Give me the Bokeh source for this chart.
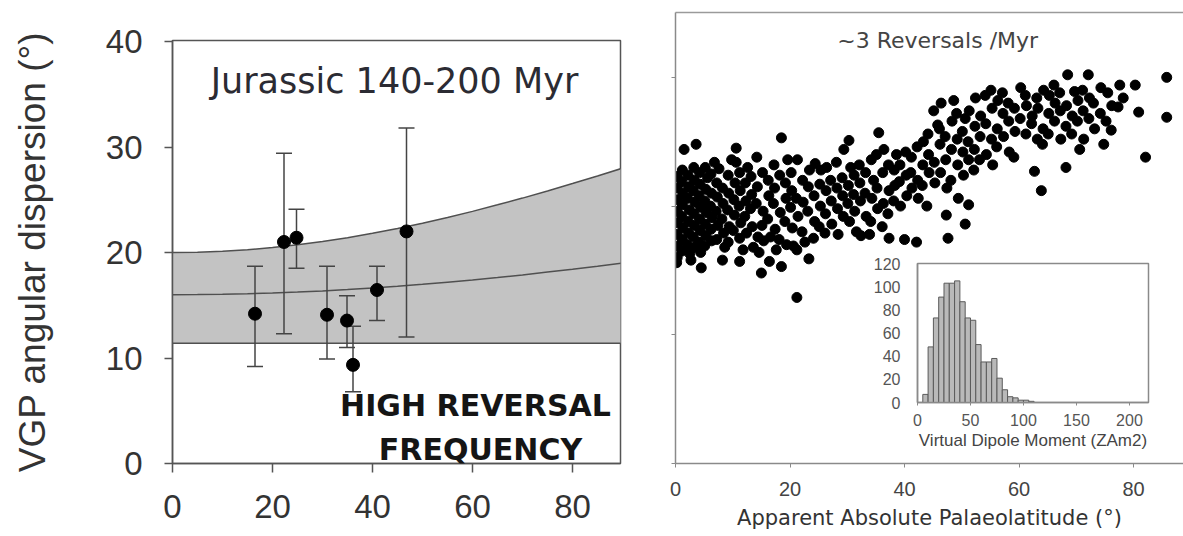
from bokeh.plotting import figure
from bokeh.models import (Range1d, FixedTicker, LinearAxis, Label, ColumnDataSource, GridBox, Row,
                          CustomJSTickFormatter)
from bokeh.embed import file_html
from bokeh.resources import INLINE

# ---------------- data: left panel (Jurassic sites) ----------------
site_lat = [16.5, 22.3, 24.8, 30.9, 34.9, 36.1, 40.9, 46.8]
site_vgp = [14.2, 21.0, 21.4, 14.1, 13.55, 9.35, 16.45, 22.0]
site_upper = [18.7, 29.4, 24.1, 18.7, 15.9, 13.0, 18.7, 31.8]
site_lower = [9.2, 12.3, 18.5, 9.9, 11.0, 6.8, 13.55, 12.0]

model_lat = [0, 5, 10, 15, 20, 25, 30, 35, 40, 45, 50, 55, 60, 65, 70, 75, 80, 85, 90]
model_upper = [20.0, 20.03, 20.12, 20.27, 20.47, 20.73, 21.04, 21.41, 21.82, 22.28, 22.78,
               23.33, 23.9, 24.52, 25.16, 25.84, 26.54, 27.25, 28.0]
model_mid = [16.0, 16.01, 16.04, 16.09, 16.16, 16.25, 16.36, 16.49, 16.64, 16.81, 16.99,
             17.19, 17.4, 17.63, 17.88, 18.15, 18.42, 18.70, 19.0]
model_lower = [11.4, 11.4, 11.4, 11.4, 11.4, 11.4, 11.4, 11.4, 11.4, 11.4, 11.4,
               11.4, 11.4, 11.4, 11.4, 11.4, 11.4, 11.4, 11.4]

left_xticks = [0, 20, 40, 60, 80]
left_yticks = [0, 10, 20, 30, 40]

# ---------------- data: right panel (simulation, ~3 reversals/Myr) ----------------
scatter_pts = [
    (0.3,22.3),(0.3,21.4),(0.4,20.5),(0.3,19.6),(0.4,18.7),(0.3,17.8),(0.4,16.9),(0.3,16.0),(0.2,15.6),
    (1.2,22.8),(1.1,21.9),(1.3,21.0),(1.2,20.1),(1.1,19.2),(1.3,18.3),(1.2,17.4),(1.1,16.5),(1.5,24.4),
    (2.2,22.4),(2.3,21.5),(2.1,20.6),(2.4,19.7),(2.2,18.8),(2.3,17.9),(2.1,17.0),(2.7,15.8),(2.5,16.3),
    (3.2,23.0),(3.3,22.0),(3.1,21.2),(3.4,20.3),(3.2,19.4),(3.3,18.5),(3.1,17.6),(3.4,16.8),(3.6,24.8),
    (4.2,22.6),(4.3,21.7),(4.1,20.8),(4.4,19.9),(4.2,19.0),(4.3,18.1),(4.1,17.2),(4.5,15.2),(4.4,16.4),
    (5.2,23.0),(5.3,21.3),(5.1,20.4),(5.4,19.5),(5.2,18.6),(5.3,17.7),(5.1,16.9),(5.6,22.2),
    (6.2,22.5),(6.3,21.0),(6.1,20.0),(6.4,19.1),(6.2,18.2),(6.3,17.3),(6.8,23.4),
    (7.2,21.8),(7.3,20.7),(7.1,19.6),(7.4,18.5),(7.2,17.4),(7.6,22.9),(8.2,15.8),(8.3,20.2),(8.1,19.0),
    (8.4,17.9),(8.2,21.4),(8.6,16.8),(9.2,22.4),(9.3,21.0),(9.1,19.7),(9.4,18.4),(9.2,17.2),(9.8,23.6),
    (10.2,20.5),(10.3,19.3),(10.1,18.1),(10.4,21.8),(10.6,24.5),(10.6,23.4),
    (11.2,22.6),(11.3,21.2),(11.1,20.0),(11.4,18.7),(11.2,17.5),(11.2,15.7),(11.8,16.6),
    (12.2,21.8),(12.3,20.4),(12.1,19.2),(12.4,17.9),(12.6,23.0),(13.2,22.3),(13.3,20.9),(13.1,19.8),
    (13.4,18.4),(13.6,16.8),(14.2,23.8),(14.3,21.5),(14.1,20.2),(14.4,17.6),(14.6,16.4),(15.0,14.8),
    (15.2,22.6),(15.3,19.6),(15.1,18.5),(15.4,17.3),(16.4,15.7),(16.2,22.0),(16.3,20.8),(16.1,19.0),
    (16.6,17.6),(17.2,23.2),(17.3,21.4),(17.1,20.2),(17.4,18.2),(17.6,16.6),(18.5,25.3),(18.2,22.4),
    (18.3,19.5),(18.1,17.4),(18.5,15.3),(19.2,21.8),(19.3,20.6),(19.1,18.8),(19.4,17.0),(19.6,23.6),
    (20.2,22.6),(20.3,21.2),(20.1,19.9),(20.4,18.3),(20.6,16.9),(21.2,12.9),(21.2,16.6),(21.3,23.6),
    (21.1,20.6),(21.4,19.2),(22.2,22.0),(22.3,20.3),(22.1,18.0),(22.6,17.2),(23.3,15.9),(23.2,21.5),
    (23.1,19.6),(23.4,22.8),(24.2,20.8),(24.3,18.8),(24.1,17.5),(24.4,23.3),(25.2,21.7),(25.3,20.0),
    (25.1,18.4),(25.4,22.8),(26.2,19.4),(26.3,21.2),(26.1,17.9),(26.4,23.0),(27.2,20.4),(27.3,18.6),
    (27.1,22.0),(28.2,21.4),(28.3,19.8),(28.1,23.4),(28.4,17.8),(29.4,24.4),(29.2,20.8),(29.3,19.2),
    (29.1,22.2),(30.3,25.1),(30.2,21.6),(30.1,20.2),(30.4,18.8),(30.6,23.0),
    (31.2,22.4),(31.3,19.6),(31.1,20.9),(31.6,18.0),(32.4,17.7),(32.2,21.8),(32.3,20.4),(32.1,23.2),
    (33.2,22.6),(33.9,17.8),(33.3,19.2),(33.1,21.0),(34.2,23.6),(34.3,20.6),(34.1,18.8),(34.6,22.0),
    (35.5,25.7),(35.2,21.4),(35.3,19.8),(35.1,24.0),(36.4,24.4),(36.2,22.6),(36.3,20.2),(36.1,18.4),
    (37.3,17.5),(37.2,23.2),(37.3,21.2),(37.1,19.4),(38.2,22.8),(38.3,21.6),(38.1,20.4),(38.6,24.0),
    (39.2,23.2),(39.3,20.0),(39.1,21.9),(40.0,17.4),(40.2,24.2),(40.3,22.4),(40.4,20.8),
    (41.2,23.8),(41.3,21.4),(41.1,22.6),(42.1,17.2),(42.2,24.6),(42.3,22.0),(42.4,20.6),(43.2,23.2),
    (43.3,25.0),(43.1,21.6),(43.9,20.0),(44.2,24.0),(44.3,22.6),(44.1,25.6),(45.2,23.4),(45.3,21.8),
    (45.8,26.3),(45.1,27.4),(46.2,24.8),(46.3,22.6),(46.1,26.0),(46.4,28.0),(47.3,19.3),(47.6,17.5),
    (47.2,23.6),(47.1,25.4),(47.4,21.4),(48.2,24.4),(48.3,26.6),(48.1,22.0),(48.6,28.2),(49.2,25.2),
    (49.3,23.2),(49.1,27.2),(49.4,20.6),
    (50.6,26.8),(50.6,18.6),(50.2,24.2),(50.3,22.4),(50.1,25.8),(51.2,20.1),(51.2,23.6),(51.3,27.4),
    (51.1,25.0),(52.2,24.4),(52.3,26.2),(52.1,22.8),(52.4,28.4),(53.2,25.4),(53.3,27.0),(53.1,23.6),
    (54.2,26.4),(54.3,24.0),(54.1,28.6),(55.2,25.2),(55.3,27.6),(55.1,29.0),(55.4,23.2),(56.2,26.0),
    (56.3,28.2),(56.1,24.6),(57.2,27.2),(57.3,25.4),(57.1,28.8),(58.2,26.6),(58.3,24.2),(58.1,28.0),
    (59.2,27.6),(59.3,25.8),(59.1,23.8),(60.3,29.2),(60.2,26.8),
    (61.2,25.6),(61.3,27.8),(61.1,28.6),(62.7,22.7),(62.2,26.4),(62.3,27.0),(63.9,21.2),(63.2,25.2),
    (63.3,27.6),(63.1,28.4),(64.2,26.0),(64.3,29.0),(64.1,24.8),(65.2,27.2),(65.3,28.6),(65.1,25.6),
    (66.2,26.6),(66.3,28.0),(66.1,29.4),(67.2,27.4),(67.3,25.2),(67.1,28.8),(68.2,23.0),(68.5,30.2),
    (68.2,26.2),(68.3,27.8),(69.7,28.9),(69.2,25.6),(69.3,27.0),(70.6,24.4),(70.2,26.6),(70.3,28.2),
    (71.2,27.4),(71.3,25.2),(71.1,29.0),(72.1,30.2),(72.2,26.8),(72.3,28.4),(73.0,28.0),(73.2,26.0),
    (74.2,27.2),(74.8,24.8),(74.3,29.2),(75.5,28.8),(75.2,26.6),(76.1,25.9),(76.2,27.8),(77.3,27.7),
    (77.6,29.4),(78.2,28.4),(80.3,29.4),(80.9,27.3),(82.1,23.8),(85.8,30.0),(85.8,26.9),
]
scatter_lat = [p[0] for p in scatter_pts]
scatter_vgp = [p[1] for p in scatter_pts]
right_xticks = [0, 20, 40, 60, 80]
right_yticks = [0, 10, 20, 30]

# ---------------- data: inset histogram ----------------
vdm_bin_lo = [5, 10, 15, 20, 25, 30, 35, 40, 45, 50, 55, 60, 65, 70, 75, 80, 85, 90, 95, 100, 105]
vdm_counts = [7, 48, 73, 91, 103, 103, 105, 87, 73, 71, 50, 35, 35, 38, 21, 11, 5, 4, 2, 2, 1]
vdm_bin_width = 5
inset_xticks = [0, 50, 100, 150, 200]
inset_yticks = [0, 20, 40, 60, 80, 100, 120]

SANS = "Liberation Sans"
WIDE = "DejaVu Sans"

# ================= left figure =================
left = figure(width=640, height=536, output_backend="svg", toolbar_location=None,
              title_location=None,
              x_range=Range1d(0, 89.6), y_range=Range1d(0, 40.1),
              min_border_left=172, min_border_right=20, min_border_top=40, min_border_bottom=73)
left.background_fill_color = "white"
left.border_fill_color = "white"
left.grid.visible = False
left.outline_line_color = "#555555"
left.outline_line_width = 1.5

left.varea(x=model_lat, y1=model_lower, y2=model_upper, fill_color="#c3c3c3")
left.line(model_lat, model_upper, line_color="#505050", line_width=1.5)
left.line(model_lat, model_mid, line_color="#505050", line_width=1.5)
left.line(model_lat, model_lower, line_color="#505050", line_width=1.5)

src = ColumnDataSource(dict(x=site_lat, y=site_vgp, up=site_upper, lo=site_lower))
left.segment(x0="x", y0="lo", x1="x", y1="up", source=src, line_color="#444444", line_width=1.5)
left.scatter("x", "up", source=src, marker="dash", size=16, line_color="#444444", line_width=1.5)
left.scatter("x", "lo", source=src, marker="dash", size=16, line_color="#444444", line_width=1.5)
left.scatter("x", "y", source=src, size=13, marker="circle", fill_color="black", line_color="black")

for ax in (left.xaxis[0], left.yaxis[0]):
    ax.axis_line_color = "#555555"
    ax.axis_line_width = 1.5
    ax.major_tick_line_color = "#555555"
    ax.major_tick_line_width = 1.5
    ax.major_tick_in = 0
    ax.minor_tick_line_color = None
    ax.major_label_text_font = SANS
    ax.major_label_text_font_size = "33px"
    ax.major_label_text_color = "#333333"
left.xaxis.ticker = FixedTicker(ticks=left_xticks)
left.yaxis.ticker = FixedTicker(ticks=left_yticks)
left.xaxis.major_tick_out = 9
left.yaxis.major_tick_out = 8
left.xaxis.major_label_standoff = 22
left.yaxis.major_label_standoff = 22
left.yaxis.axis_label = "VGP angular dispersion (°)"
left.yaxis.axis_label_text_font = SANS
left.yaxis.axis_label_text_font_style = "normal"
left.yaxis.axis_label_text_font_size = "37px"
left.yaxis.axis_label_text_color = "#333333"
left.yaxis.axis_label_standoff = 50

left.add_layout(Label(x=44.4, y=36.3, text="Jurassic 140-200 Myr", text_font=WIDE,
                      text_font_size="35px", text_color="#2b2b33",
                      text_align="center", text_baseline="middle"))
left.add_layout(Label(x=60.6, y=5.5, text="HIGH REVERSAL", text_font=WIDE,
                      text_font_style="bold", text_font_size="30px", text_color="#151515",
                      text_align="center", text_baseline="middle"))
left.add_layout(Label(x=61.6, y=1.3, text="FREQUENCY", text_font=WIDE,
                      text_font_style="bold", text_font_size="30px", text_color="#151515",
                      text_align="center", text_baseline="middle"))

# ================= right figure =================
right = figure(width=543, height=536, output_backend="svg", toolbar_location=None,
               title_location=None,
               x_range=Range1d(0, 88.73), y_range=Range1d(0, 35.04),
               min_border_left=35, min_border_right=0, min_border_top=12, min_border_bottom=73)
right.background_fill_color = "white"
right.border_fill_color = "white"
right.grid.visible = False
right.outline_line_color = None

right.scatter(scatter_lat, scatter_vgp, size=10, marker="circle", fill_color="black", line_color="black")

right.xaxis.ticker = FixedTicker(ticks=right_xticks)
right.yaxis.ticker = FixedTicker(ticks=right_yticks)
for ax in (right.xaxis[0], right.yaxis[0]):
    ax.axis_line_color = "#8a8a8a"
    ax.axis_line_width = 1.5
    ax.major_tick_line_color = "#8a8a8a"
    ax.major_tick_out = 4
    ax.major_tick_in = 0
    ax.minor_tick_line_color = None
right.yaxis.formatter = CustomJSTickFormatter(code="return ''")
right.yaxis.major_label_standoff = 0
right.xaxis.major_label_text_font = SANS
right.xaxis.major_label_text_font_size = "20px"
right.xaxis.major_label_text_color = "#444444"
right.xaxis.major_label_standoff = 14
right.xaxis.axis_label = "Apparent Absolute Palaeolatitude (°)"
right.xaxis.axis_label_text_font = WIDE
right.xaxis.axis_label_text_font_style = "normal"
right.xaxis.axis_label_text_font_size = "21px"
right.xaxis.axis_label_text_color = "#333333"
right.xaxis.axis_label_standoff = 7

top_ax = LinearAxis(ticker=FixedTicker(ticks=[]), axis_line_color="#9a9a9a", axis_line_width=1.5,
                    major_label_standoff=0, major_tick_out=0, major_tick_in=0,
                    major_label_text_font_size="0px", axis_label_standoff=0,
                    major_tick_line_color=None, minor_tick_line_color=None)
right.add_layout(top_ax, "above")

right.add_layout(Label(x=45.8, y=32.9, text="~3 Reversals /Myr", text_font=WIDE,
                       text_font_size="22px", text_color="#444444",
                       text_align="center", text_baseline="middle"))

# ================= inset histogram =================
inset = figure(width=305, height=205, output_backend="svg", toolbar_location=None,
               title_location=None,
               x_range=Range1d(0, 218), y_range=Range1d(0, 120),
               min_border_left=57, min_border_right=17, min_border_top=13, min_border_bottom=53)
inset.background_fill_color = "white"
inset.border_fill_alpha = 0
inset.grid.visible = False
inset.outline_line_color = "#8a8a8a"
inset.outline_line_width = 1.5

inset.vbar(x=[b + vdm_bin_width / 2 for b in vdm_bin_lo], top=vdm_counts, bottom=0,
           width=vdm_bin_width, fill_color="#b9b9b9", line_color="#5a5a5a", line_width=1)

inset.xaxis.ticker = FixedTicker(ticks=inset_xticks)
inset.yaxis.ticker = FixedTicker(ticks=inset_yticks)
for ax in (inset.xaxis[0], inset.yaxis[0]):
    ax.axis_line_color = "#8a8a8a"
    ax.axis_line_width = 1.5
    ax.major_tick_line_color = "#8a8a8a"
    ax.major_tick_in = 0
    ax.minor_tick_line_color = None
    ax.major_label_text_font = SANS
    ax.major_label_text_font_size = "16px"
    ax.major_label_text_color = "#555555"
inset.xaxis.major_tick_out = 3
inset.yaxis.major_tick_out = 0
inset.yaxis.major_label_standoff = 17
inset.xaxis.major_label_standoff = 8
inset.xaxis.axis_label = "Virtual Dipole Moment (ZAm2)"
inset.xaxis.axis_label_text_font = SANS
inset.xaxis.axis_label_text_font_style = "normal"
inset.xaxis.axis_label_text_font_size = "17px"
inset.xaxis.axis_label_text_color = "#444444"
inset.xaxis.axis_label_standoff = 2

right_box = GridBox(children=[(right, 0, 0, 3, 3), (inset, 1, 1, 1, 1)],
                    rows=["250px", "205px", "81px"], cols=["220px", "305px", "18px"])
page = Row(children=[left, right_box], spacing=0)

open("out.html", "w").write(file_html(page, INLINE))
